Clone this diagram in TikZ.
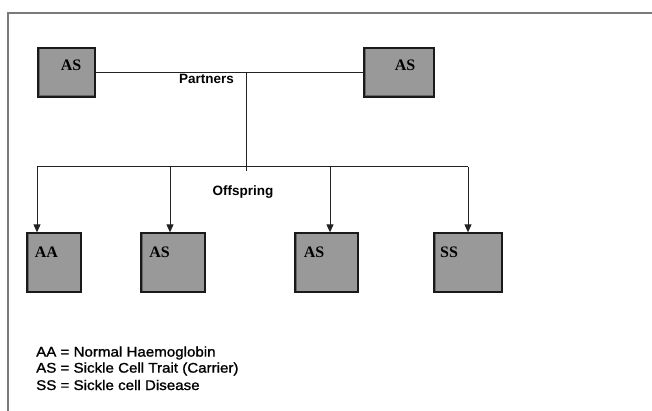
\documentclass[tikz,border=0pt]{standalone}
\usepackage{fontspec}
\setmainfont{Liberation Sans}
\newfontfamily\boxfont{Liberation Serif}
\newfontfamily\legfont[FakeStretch=1.08,FakeBold=1.2]{Liberation Sans}
\usetikzlibrary{arrows.meta}
\definecolor{boxfill}{HTML}{999999}
\definecolor{boxedge}{HTML}{1A1A1A}
\definecolor{linec}{HTML}{222222}
\definecolor{framec}{HTML}{7A7A7A}
\begin{document}
\begin{tikzpicture}[x=1pt,y=-1pt,
  genebox/.style={draw=boxedge,fill=boxfill,line width=1.3pt,inner sep=0pt,
    path picture={\draw[black!60,line width=3pt] (path picture bounding box.south west) rectangle (path picture bounding box.north east);}},
  genetext/.style={font=\boxfont\bfseries\fontsize{16}{16}\selectfont,inner sep=0pt,text=black},
  labeltext/.style={font=\bfseries\fontsize{13.5}{13.5}\selectfont,inner sep=0pt},
  legtext/.style={font=\legfont\fontsize{14}{16}\selectfont,inner sep=0pt,anchor=west},
  conn/.style={draw=linec,line width=1pt},
  arr/.style={conn,-{Triangle[length=8pt,width=7pt]}}]
\useasboundingbox (0,0) rectangle (652,411);
\fill[white] (0,0) rectangle (652,411);
% frame
\draw[framec,line width=1.5pt] (8,411) -- (8,13) -- (652,13);
% top boxes
\node[genebox,minimum width=57pt,minimum height=49pt] (p1) at (66.5,72.5) {};
\node[genebox,minimum width=70pt,minimum height=49pt] (p2) at (399,72.5) {};
\node[genetext] (p1t) at (71,65) {AS};
\node[genetext] (p2t) at (405,65) {AS};
% bottom boxes
\node[genebox,minimum width=54pt,minimum height=59pt] (c1) at (54,262.5) {};
\node[genebox,minimum width=64pt,minimum height=59pt] (c2) at (173,262.5) {};
\node[genebox,minimum width=63pt,minimum height=59pt] (c3) at (326.5,262.5) {};
\node[genebox,minimum width=68pt,minimum height=59pt] (c4) at (468,262.5) {};
\node[genetext] (c1t) at (46.5,252) {AA};
\node[genetext] (c2t) at (159.5,252) {AS};
\node[genetext] (c3t) at (314,252) {AS};
\node[genetext] (c4t) at (449,252) {SS};
% labels
\node[labeltext] (partners) at (206.5,79) {Partners};
\node[labeltext] (offspring) at (243,192) {Offspring};
% connectors
\coordinate (mid) at (246,72.5);
\coordinate (trunk) at (246,171);
\coordinate (b1) at (37,167);
\coordinate (b2) at (170,167);
\coordinate (b3) at (330,167);
\coordinate (b4) at (468,167);
\draw[conn] (p1.east) -- (p2.west);
\draw[conn] (mid) -- (trunk);
\draw[conn] (b1) -- (b4);
\draw[arr] (b1) -- (b1 |- c1.north);
\draw[arr] (b2) -- (b2 |- c2.north);
\draw[arr] (b3) -- (b3 |- c3.north);
\draw[arr] (b4) -- (b4 |- c4.north);
% legend
\node[legtext] (l1) at (36,353) {AA = Normal Haemoglobin};
\node[legtext] (l2) at (36,369) {AS = Sickle Cell Trait (Carrier)};
\node[legtext] (l3) at (36,385) {SS = Sickle cell Disease};
\end{tikzpicture}
\end{document}
